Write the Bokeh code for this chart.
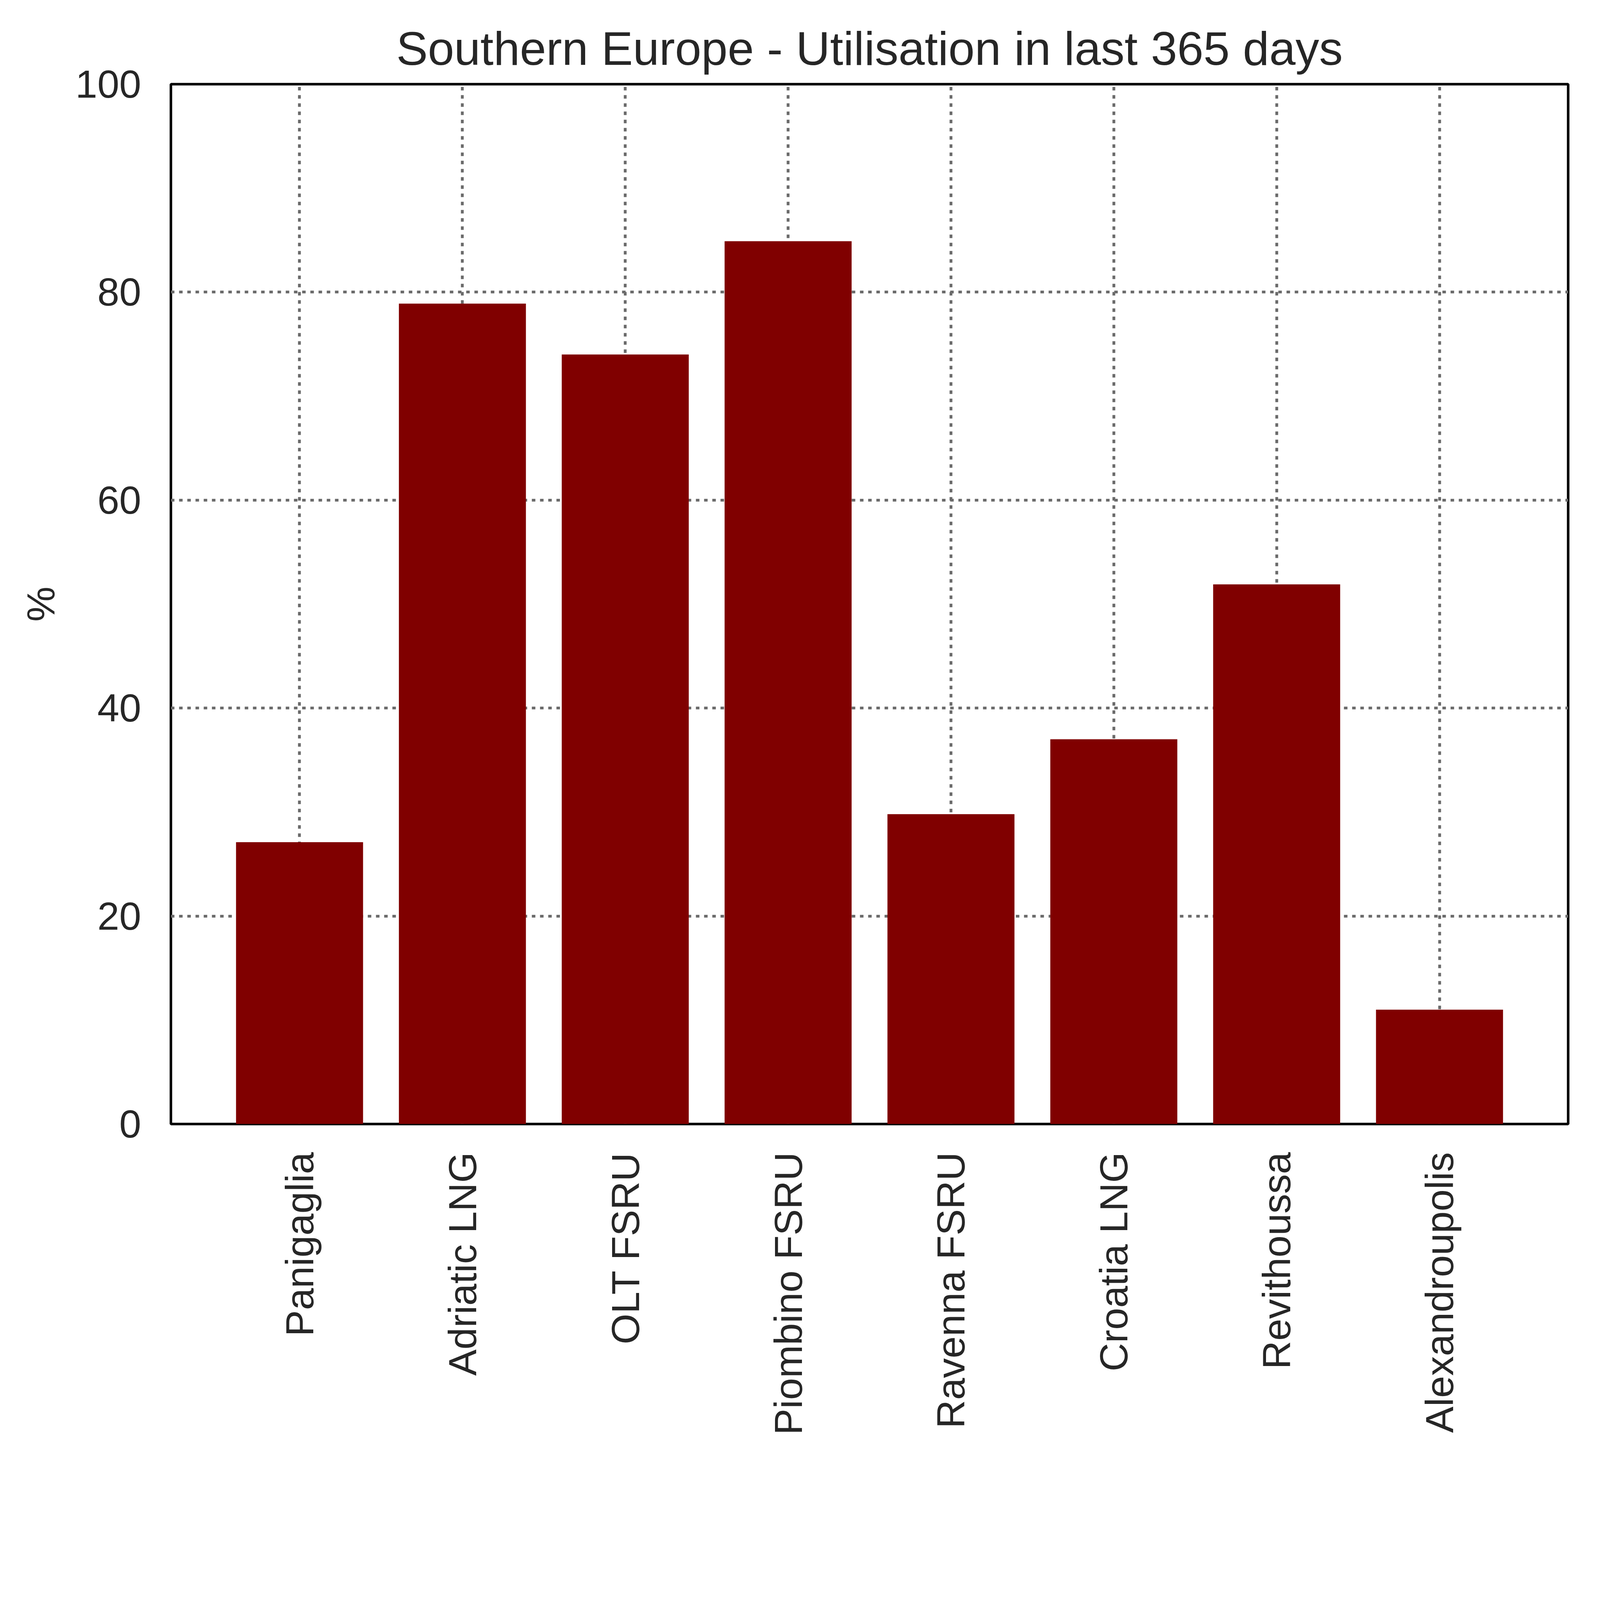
import math
from bokeh.plotting import figure
from bokeh.models import FixedTicker, Range1d
from bokeh.embed import file_html
from bokeh.resources import INLINE

terminals = ["Panigaglia", "Adriatic LNG", "OLT FSRU", "Piombino FSRU",
             "Ravenna FSRU", "Croatia LNG", "Revithoussa", "Alexandroupolis"]
utilisation = [27.1, 78.9, 74.0, 84.9, 29.8, 37.0, 51.9, 11.0]
y_ticks = [0, 20, 40, 60, 80, 100]

positions = list(range(len(terminals)))

# overall scale so that the page fits the captured area
S = 4080 / 5658


def px(v):
    return int(round(v * S))


def fs(v):
    return f"{v * S:.1f}px"


FONT = "Liberation Sans"
TXT = "#262626"

fw, fh = px(4960), px(3692)
bl, br, bt = px(606), px(92), px(298)
bb = px(1188)

p = figure(
    frame_width=fw, frame_height=fh,
    min_border_left=bl, min_border_right=br,
    min_border_top=bt, min_border_bottom=bb,
    x_range=Range1d(-0.79, len(terminals) - 1 + 0.79),
    y_range=Range1d(0, 100),
    output_backend="svg", toolbar_location=None,
    title="Southern Europe - Utilisation in last 365 days",
)

p.vbar(x=positions, top=utilisation, width=0.78, bottom=0,
       fill_color="#800000", line_color=None)

# title
p.title.text_font = FONT
p.title.text_font_size = fs(168)
p.title.text_font_style = "normal"
p.title.text_color = TXT
p.title.align = "center"
p.title.standoff = px(65)

# frame
p.outline_line_color = "black"
p.outline_line_width = 9 * S
p.background_fill_color = "white"
p.border_fill_color = "white"

# axes
for ax in (p.xaxis[0], p.yaxis[0]):
    ax.axis_line_color = None
    ax.major_tick_line_color = None
    ax.minor_tick_line_color = None
    ax.major_tick_out = 0
    ax.major_tick_in = 0
    ax.minor_tick_out = 0
    ax.minor_tick_in = 0
    ax.major_label_text_font = FONT
    ax.major_label_text_font_size = fs(140)
    ax.major_label_text_color = TXT

p.xaxis.ticker = FixedTicker(ticks=positions)
p.xaxis.major_label_overrides = {i: t for i, t in zip(positions, terminals)}
p.xaxis.major_label_orientation = math.pi / 2
p.xaxis.major_label_standoff = px(100)

p.yaxis.ticker = FixedTicker(ticks=y_ticks)
p.yaxis.major_label_standoff = px(105)
p.yaxis.axis_label = "%"
p.yaxis.axis_label_text_font = FONT
p.yaxis.axis_label_text_font_size = fs(140)
p.yaxis.axis_label_text_font_style = "normal"
p.yaxis.axis_label_text_color = TXT
p.yaxis.axis_label_standoff = px(41)

# grid
for g in (p.xgrid[0], p.ygrid[0]):
    g.grid_line_color = "#6b6b6b"
    g.grid_line_width = 10 * S
    g.grid_line_dash = f"{px(13)} {px(17)}"
p.xgrid.ticker = FixedTicker(ticks=positions)
p.ygrid.ticker = FixedTicker(ticks=[20, 40, 60, 80])

open("out.html", "w").write(file_html(p, INLINE))
